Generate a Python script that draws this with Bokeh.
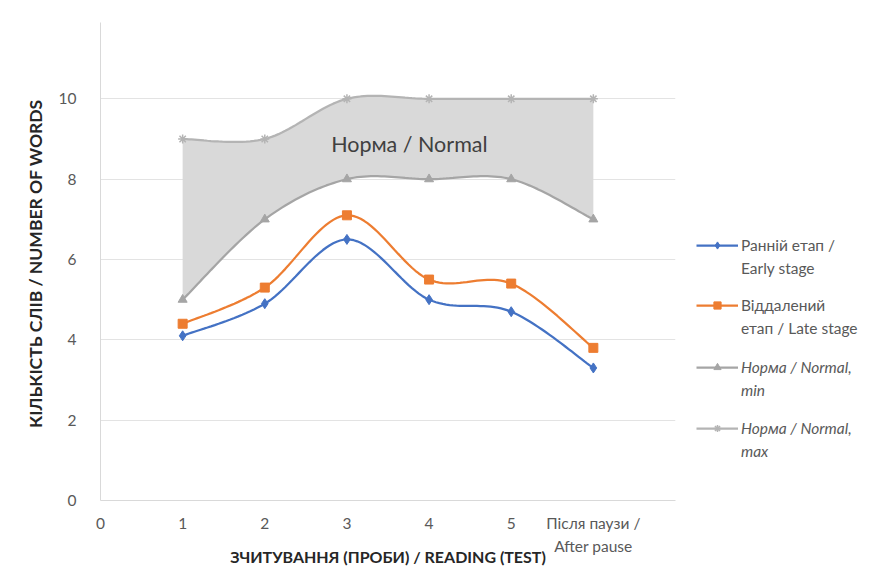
import numpy as np
from bokeh.plotting import figure
from bokeh.layouts import row
from bokeh.models import Legend, LegendItem, Label, Range1d, FixedTicker
from bokeh.embed import file_html
from bokeh.resources import INLINE

# ---- data ----
trials = [1, 2, 3, 4, 5, 6]
tick_labels = ["0", "1", "2", "3", "4", "5", "Після паузи /\nAfter pause"]
early = [4.1, 4.9, 6.5, 5.0, 4.7, 3.3]
late = [4.4, 5.3, 7.1, 5.5, 5.4, 3.8]
norm_min = [5, 7, 8, 8, 8, 7]
norm_max = [9, 9, 10, 10, 10, 10]

FONT = "Lato"
TXT = "#595959"
GRAY_MIN = "#a5a5a5"
GRAY_MAX = "#b4b4b4"
BLUE = "#4472c4"
ORANGE = "#ed7d31"
H = 572
FRAME_BOTTOM = 500


def smooth(xs, ys, n=24):
    """Excel-like smoothed line (Catmull-Rom as cubic Bezier) through the points."""
    P = np.column_stack([np.asarray(xs, float), np.asarray(ys, float)])
    k = len(P)
    out = [P[0]]
    for i in range(k - 1):
        p0 = P[i - 1] if i > 0 else P[i]
        p1 = P[i]
        p2 = P[i + 1]
        p3 = P[i + 2] if i + 2 < k else P[i + 1]
        c1 = p1 + (p2 - p0) / 6.0
        c2 = p2 - (p3 - p1) / 6.0
        t = np.linspace(0, 1, n + 1)[1:, None]
        seg = ((1 - t) ** 3) * p1 + 3 * ((1 - t) ** 2) * t * c1 + 3 * (1 - t) * t ** 2 * c2 + t ** 3 * p2
        out.extend(seg)
    out = np.array(out)
    return out[:, 0], out[:, 1]


p = figure(width=680, height=H, output_backend="svg", toolbar_location=None,
           x_range=Range1d(0, 7), y_range=Range1d(0, 11.9),
           min_border_left=100, min_border_right=5, min_border_top=22, min_border_bottom=H - FRAME_BOTTOM)
p.outline_line_color = None
p.background_fill_color = "white"

# axes
p.xaxis.ticker = FixedTicker(ticks=list(range(0, 7)))
p.xaxis.major_label_overrides = {i: s for i, s in enumerate(tick_labels)}
p.yaxis.ticker = FixedTicker(ticks=[0, 2, 4, 6, 8, 10])
for ax in (p.xaxis[0], p.yaxis[0]):
    ax.major_tick_line_color = None
    ax.minor_tick_line_color = None
    ax.axis_line_color = "#d9d9d9"
    ax.major_label_text_font = FONT
    ax.major_label_text_font_size = "15.5px"
    ax.major_label_text_color = TXT
    ax.axis_label_text_font = FONT
    ax.axis_label_text_font_style = "bold"
    ax.axis_label_text_color = "#262626"
p.xaxis.major_label_text_line_height = 1.3
p.xaxis.major_label_standoff = 7
p.yaxis.major_label_standoff = 18
p.yaxis.axis_label = "КІЛЬКІСТЬ  СЛІВ / NUMBER OF WORDS"
p.yaxis.axis_label_text_font_size = "17.5px"
p.yaxis.axis_label_standoff = 10
p.xaxis.axis_label = "ЗЧИТУВАННЯ (ПРОБИ) / READING (TEST)"
p.xaxis.axis_label_text_font_size = "16px"
p.xaxis.axis_label_standoff = -11
p.xgrid.grid_line_color = None
p.ygrid.grid_line_color = "#e3e3e3"
p.ygrid.grid_line_width = 1

# normal band
xmx, ymx = smooth(trials, norm_max)
xmn, ymn = smooth(trials, norm_min)
p.patch(np.concatenate([xmx, xmn[::-1]]), np.concatenate([ymx, ymn[::-1]]),
        fill_color="#d9d9d9", line_color=None)

p.line(xmx, ymx, line_color=GRAY_MAX, line_width=2.25)
p.scatter(trials, norm_max, marker="asterisk", size=9, line_color=GRAY_MAX, line_width=1.5)
p.line(xmn, ymn, line_color=GRAY_MIN, line_width=2.25)
p.scatter(trials, norm_min, marker="triangle", size=9, fill_color=GRAY_MIN, line_color=GRAY_MIN)

xl, yl = smooth(trials, late)
p.line(xl, yl, line_color=ORANGE, line_width=2.25)
p.scatter(trials, late, marker="square", size=9, fill_color=ORANGE, line_color=ORANGE)

xe, ye = smooth(trials, early)
p.line(xe, ye, line_color=BLUE, line_width=2.25)
p.scatter(trials, early, marker="diamond", size=10, fill_color=BLUE, line_color=BLUE)

p.add_layout(Label(x=3.76, y=8.88, text="Норма / Normal", text_align="center", text_baseline="middle",
                   text_font=FONT, text_font_size="21.5px", text_color="#404040"))

# ---- legend panel (proxy renderers kept out of view) ----
lg = figure(width=190, height=H, output_backend="svg", toolbar_location=None,
            x_range=Range1d(-20, -19), y_range=Range1d(-20, -19),
            min_border=0, min_border_left=0, min_border_right=0, min_border_top=0, min_border_bottom=0)
lg.axis.visible = False
lg.grid.visible = False
lg.outline_line_color = None

le_l = lg.line(trials, early, line_color=BLUE, line_width=2.25)
le_m = lg.scatter(trials, early, marker="diamond", size=10, fill_color=BLUE, line_color=BLUE)
ll_l = lg.line(trials, late, line_color=ORANGE, line_width=2.25)
ll_m = lg.scatter(trials, late, marker="square", size=9, fill_color=ORANGE, line_color=ORANGE)
ln_l = lg.line(trials, norm_min, line_color=GRAY_MIN, line_width=2.25)
ln_m = lg.scatter(trials, norm_min, marker="triangle", size=9, fill_color=GRAY_MIN, line_color=GRAY_MIN)
lx_l = lg.line(trials, norm_max, line_color=GRAY_MAX, line_width=2.25)
lx_m = lg.scatter(trials, norm_max, marker="asterisk", size=9, line_color=GRAY_MAX, line_width=1.5)

entries = [
    ("Ранній етап /", "Early stage", [le_l, le_m], "normal", 245),
    ("Віддалений", "етап / Late stage", [ll_l, ll_m], "normal", 305),
    ("Норма / Normal,", "min", [ln_l, ln_m], "italic", 367),
    ("Норма / Normal,", "max", [lx_l, lx_m], "italic", 428),
]
for l1, l2, rs, style, yc in entries:
    leg = Legend(items=[LegendItem(label=l1, renderers=rs), LegendItem(label=l2, renderers=[])],
                 location=(16, FRAME_BOTTOM - (yc + 32)), border_line_color=None, background_fill_alpha=0,
                 padding=0, margin=0, label_text_font=FONT, label_text_font_size="15.5px",
                 label_text_color=TXT, label_text_font_style=style, glyph_width=42, glyph_height=18,
                 label_height=18, spacing=5, label_standoff=3)
    lg.add_layout(leg, "center")

layout = row(p, lg, spacing=0)
open("out.html", "w").write(file_html(layout, INLINE))
